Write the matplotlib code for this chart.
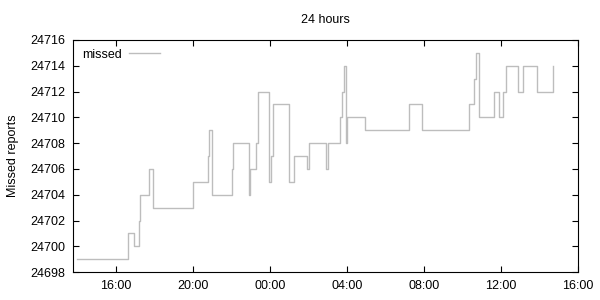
import datetime as dt
import matplotlib
matplotlib.use("Agg")
import matplotlib.pyplot as plt
import matplotlib.dates as mdates

plt.rcParams.update({"font.family": ["Liberation Sans", "DejaVu Sans"], "font.size": 9})

# step changes: (day offset, clock time), count of missed reports
day = [0] * 18 + [1] * 27
clock = ["13:58", "16:38", "16:57", "17:11", "17:14", "17:43", "17:55", "20:01", "20:47",
         "20:51", "20:58", "22:00", "22:03", "22:55", "22:59", "23:15", "23:24", "23:57",
         "00:04", "00:10", "00:58", "01:15", "01:56", "02:01", "02:56", "03:00", "03:38",
         "03:46", "03:52", "03:57", "04:00", "04:55", "07:15", "07:55", "10:20", "10:37",
         "10:43", "10:53", "11:40", "11:55", "12:08", "12:16", "12:55", "13:10", "13:54"]
missed = [24699, 24701, 24700, 24702, 24704, 24706, 24703, 24705, 24707,
          24709, 24704, 24706, 24708, 24704, 24706, 24708, 24712, 24705,
          24707, 24711, 24705, 24707, 24706, 24708, 24706, 24708, 24710,
          24712, 24714, 24708, 24710, 24709, 24711, 24709, 24711, 24713,
          24715, 24710, 24712, 24710, 24712, 24714, 24712, 24714, 24712]
end_clock, end_value = "14:43", 24714

base = dt.datetime(2013, 5, 1)
def stamp(d, c):
    h, m = map(int, c.split(":"))
    return base + dt.timedelta(days=d, hours=h, minutes=m)

times = [stamp(d, c) for d, c in zip(day, clock)] + [stamp(1, end_clock)]
values = missed + [end_value]

fig = plt.figure(figsize=(6, 3), dpi=100)
ax = fig.add_axes([0.122, 0.093, 0.841, 0.774])
ax.plot(times, values, drawstyle="steps-post", color="#bdbdbd", linewidth=1.0, label="missed")

ax.set_xlim(stamp(0, "13:46"), stamp(1, "16:00"))
ax.set_ylim(24698, 24716)
ax.set_yticks(range(24698, 24717, 2))
ax.xaxis.set_major_locator(mdates.HourLocator(byhour=[0, 4, 8, 12, 16, 20]))
ax.xaxis.set_major_formatter(mdates.DateFormatter("%H:%M"))
ax.yaxis.set_major_formatter(matplotlib.ticker.FormatStrFormatter("%d"))
ax.tick_params(direction="in", length=4, width=0.8, top=True, right=True, pad=6)
for s in ax.spines.values():
    s.set_linewidth(0.8)

ax.set_title("24 hours", fontsize=9, pad=12)
ax.set_ylabel("Missed reports", labelpad=8)
ax.legend(loc="upper left", frameon=False, markerfirst=False, handlelength=2.5,
          borderaxespad=0.3, handletextpad=0.6)

fig.savefig("out.png", dpi=100)
